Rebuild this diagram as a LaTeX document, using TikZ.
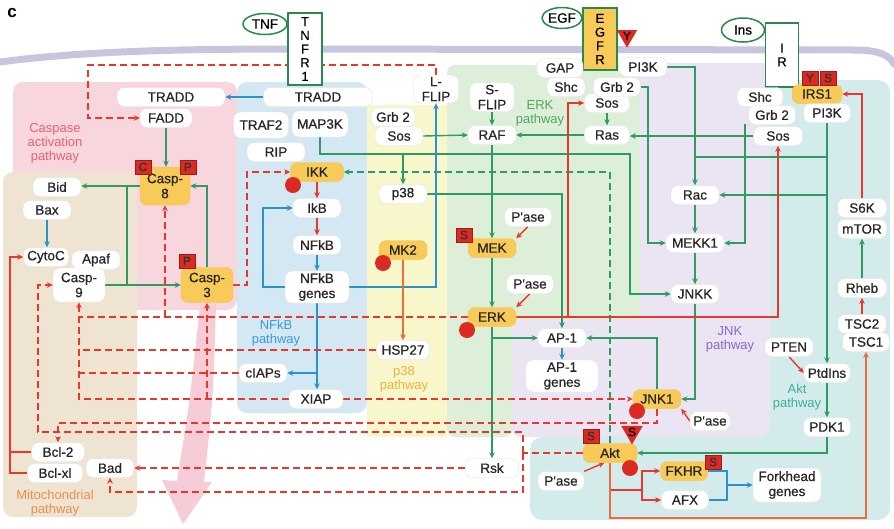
\documentclass[tikz,border=0pt]{standalone}
\usepackage{fontspec}
\setmainfont{Liberation Sans}
\newfontfamily\heavyface{Liberation Sans}[FakeBold=0.6]
\usetikzlibrary{arrows.meta,shapes.geometric}

\definecolor{regpink}{HTML}{F8D6DD}
\definecolor{regtan}{HTML}{EFE3D1}
\definecolor{regblue}{HTML}{D3E8F3}
\definecolor{regyel}{HTML}{F8F6CB}
\definecolor{reggreen}{HTML}{DDEFD9}
\definecolor{reglav}{HTML}{EBE4F2}
\definecolor{regteal}{HTML}{D3ECEB}
\definecolor{pinkarr}{HTML}{F6CDD7}
\definecolor{membr}{HTML}{C8C5DE}
\definecolor{lgreen}{HTML}{2F9A63}
\definecolor{lred}{HTML}{E8382C}
\definecolor{lorange}{HTML}{EE6C3C}
\definecolor{lblue}{HTML}{2A93CB}
\definecolor{actyel}{HTML}{F8CA58}
\definecolor{tagred}{HTML}{DC2A22}
\definecolor{rcptgreen}{HTML}{2A8A4B}
\definecolor{casplbl}{HTML}{E8626E}
\definecolor{nfkblbl}{HTML}{3A9BD6}
\definecolor{ptlbl}{HTML}{E9B43C}
\definecolor{erklbl}{HTML}{4DAA60}
\definecolor{jnklbl}{HTML}{8C68C8}
\definecolor{aktlbl}{HTML}{3AAE9E}
\definecolor{mitolbl}{HTML}{E8914C}

\pgfdeclarelayer{bg}
\pgfdeclarelayer{lines}
\pgfsetlayers{bg,lines,main}

\newcommand{\nodefont}{\heavyface\fontsize{13.5}{15}\selectfont}

\begin{document}
\begin{tikzpicture}[x=1pt, y=-1pt, >={Stealth[length=6pt,width=5.5pt]},
    prot/.style={rectangle, rounded corners=7pt, draw=black!12, fill=white, text=black!85, minimum width=48pt, minimum height=19pt, inner xsep=3pt, inner ysep=1pt, align=center, font=\nodefont},
    act/.style={prot, fill=actyel, draw=actyel!85!orange},
    tag/.style={rectangle, fill=tagred, draw=tagred!70!black, minimum width=16pt, minimum height=14pt, inner sep=0pt, font=\heavyface\fontsize{12}{12}\selectfont, text=black!80},
    tagtri/.style={regular polygon, regular polygon sides=3, shape border rotate=180, fill=tagred, inner sep=0pt, font=\heavyface\fontsize{12}{12}\selectfont, text=black},
    dot/.style={circle, fill=tagred, minimum size=16pt, inner sep=0pt},
    rcpt/.style={rectangle, draw=rcptgreen, line width=1.4pt, fill=white, inner sep=0pt, align=center, font=\heavyface\fontsize{13}{13.7}\selectfont},
    lig/.style={ellipse, draw=rcptgreen, line width=1.5pt, fill=white, inner sep=0pt, font=\nodefont},
    lbl/.style={align=center, font=\fontsize{13}{14}\selectfont},
    gl/.style={draw=lgreen, line width=1.4pt},
    garr/.style={gl, ->},
    gdash/.style={gl, ->, dash pattern=on 7pt off 4pt},
    bl/.style={draw=lblue, line width=1.4pt},
    barr/.style={bl, ->},
    rl/.style={draw=lred, line width=1.4pt},
    rarr/.style={rl, ->},
    rdl/.style={rl, dash pattern=on 7pt off 4pt},
    rdarr/.style={rdl, ->},
    oarr/.style={draw=lorange, line width=1.6pt, ->}
]
\useasboundingbox (0,0) rectangle (894,528);

% pathway areas
\begin{pgfonlayer}{bg}
    \fill[regpink, rounded corners=10pt] (13,82) rectangle (237,310);
    \fill[regtan, rounded corners=10pt] (3,172) rectangle (137,517);
    \fill[regblue, rounded corners=10pt] (237,82) rectangle (367,413);
    \fill[regyel] (367,105) rectangle (447,437);
    \fill[reggreen, rounded corners=8pt] (447,65) -- (640,65) -- (640,320) -- (512,320) -- (512,437) -- (447,437) -- cycle;
    \fill[reglav, rounded corners=8pt] (640,63) -- (770,63) -- (770,437) -- (512,437) -- (512,320) -- (640,320) -- cycle;
    \fill[regteal, rounded corners=12pt] (770,80) -- (890,80) -- (890,520) -- (530,520) -- (530,437) -- (770,437) -- cycle;
    \fill[pinkarr] (200,305) -- (216,305) .. controls (213,400) .. (204,482) -- (212,482) -- (183,524) -- (162,480) -- (177,481) .. controls (190,400) .. (200,305) -- cycle;
    \draw[draw=membr, line width=7pt, line cap=round] (0,62) .. controls (90,50) and (200,49) .. (300,49) -- (855,50) .. controls (880,50) and (890,56) .. (894,64);
\end{pgfonlayer}

\node[font=\bfseries\fontsize{17}{17}\selectfont] (panelc) at (12,13) {c};

% receptors
\node[lig, minimum width=44pt, minimum height=21pt] (tnf) at (265,24) {TNF};
\node[rcpt, minimum width=34pt, minimum height=72pt] (tnfr1) at (305,49) {T\\N\\F\\R\\1};
\node[lig, minimum width=40pt, minimum height=21pt] (egf) at (562,18) {EGF};
\node[rcpt, fill=actyel, minimum width=34pt, minimum height=62pt] (egfr) at (600,39) {E\\G\\F\\R};
\node[lig, minimum width=43pt, minimum height=24pt] (ins) at (743,30) {Ins};
\node[rcpt, minimum width=33pt, minimum height=64pt] (ir) at (782,55) {I\\R};

% caspase / mitochondrial
\node[prot, minimum width=108pt] (traddL) at (171,97) {TRADD};
\node[prot, minimum width=52pt] (fadd) at (166,118) {FADD};
\node[prot] (bid) at (57,187) {Bid};
\node[prot] (bax) at (47,210) {Bax};
\node[prot, minimum width=45pt] (cytoc) at (46,257) {CytoC};
\node[prot] (apaf) at (96,260) {Apaf};
\node[prot, minimum width=52pt, minimum height=34pt] (casp9) at (79,285) {Casp-\\9};
\node[act, minimum width=50pt, minimum height=38pt] (casp8) at (165,186) {Casp-\\8};
\node[act, minimum width=52pt, minimum height=35pt] (casp3) at (207,285) {Casp-\\3};
\node[prot, minimum width=53pt] (bcl2) at (58,452) {Bcl-2};
\node[prot, minimum width=55pt] (bclxl) at (55,473) {Bcl-xl};
\node[prot] (bad) at (110,468) {Bad};

% NFkB
\node[prot, minimum width=109pt] (traddR) at (318,97) {TRADD};
\node[prot, minimum width=55pt, minimum height=26pt] (traf2) at (261,125) {TRAF2};
\node[prot, minimum width=56pt, minimum height=26pt] (map3k) at (320,124) {MAP3K};
\node[prot, minimum width=58pt] (rip) at (276,152) {RIP};
\node[act, minimum width=53pt] (ikk) at (317,172) {IKK};
\node[prot] (ikb) at (317,208) {IkB};
\node[prot] (nfkb) at (317,245) {NFkB};
\node[prot, minimum width=64pt, minimum height=32pt] (nfkbgenes) at (317,287) {NFkB\\genes};
\node[prot] (ciaps) at (263,373) {cIAPs};
\node[prot, minimum width=54pt] (xiap) at (316,399) {XIAP};

% p38 / ERK
\node[prot, minimum width=44pt] (grb2a) at (393,117) {Grb 2};
\node[prot] (sosa) at (399,136) {Sos};
\node[prot, minimum width=45pt, minimum height=28pt] (lflip) at (436,89) {L-\\FLIP};
\node[prot, minimum width=44pt, minimum height=29pt] (sflip) at (492,97) {S-\\FLIP};
\node[prot] (raf) at (492,135) {RAF};
\node[prot] (p38) at (403,194) {p38};
\node[act] (mk2) at (403,250) {MK2};
\node[prot, minimum width=53pt] (hsp27) at (403,350) {HSP27};
\node[act] (mek) at (492,248) {MEK};
\node[prot, minimum width=47pt] (pasemek) at (528,217) {P'ase};
\node[act] (erk) at (492,317) {ERK};
\node[prot, minimum width=47pt] (paseerk) at (530,284) {P'ase};
\node[prot] (ap1) at (562,338) {AP-1};
\node[prot, minimum width=72pt, minimum height=32pt] (ap1genes) at (562,376) {AP-1\\genes};
\node[prot, minimum width=53pt] (rsk) at (492,468) {Rsk};

% EGFR side
\node[prot, minimum width=46pt] (gap) at (560,68) {GAP};
\node[prot, minimum width=38pt] (shca) at (566,87) {Shc};
\node[prot, minimum width=45pt] (sosb) at (607,103) {Sos};
\node[prot, minimum width=47pt] (grb2b) at (617,87) {Grb 2};
\node[prot, minimum width=45pt] (ras) at (607,135) {Ras};
\node[prot, minimum width=48pt] (pi3ka) at (643,67) {PI3K};

% IR side
\node[prot, minimum width=46pt] (shcb) at (760,97) {Shc};
\node[prot, minimum width=47pt] (grb2c) at (772,115) {Grb 2};
\node[prot, minimum width=49pt] (sosc) at (778,136) {Sos};
\node[act, minimum width=50pt] (irs1) at (817,94) {IRS1};
\node[prot, minimum width=47pt] (pi3kb) at (827,113) {PI3K};

% JNK / Akt
\node[prot] (rac) at (695,195) {Rac};
\node[prot, minimum width=58pt] (mekk1) at (695,243) {MEKK1};
\node[prot] (jnkk) at (695,294) {JNKK};
\node[prot, minimum width=49pt] (s6k) at (862,208) {S6K};
\node[prot, minimum width=49pt] (mtor) at (862,229) {mTOR};
\node[prot, minimum width=49pt] (rheb) at (862,288) {Rheb};
\node[prot] (tsc2) at (862,324) {TSC2};
\node[prot, minimum width=47pt] (tsc1) at (866,342) {TSC1};
\node[prot] (pten) at (789,347) {PTEN};
\node[prot, minimum width=46pt] (ptdins) at (827,373) {PtdIns};
\node[prot, minimum width=47pt] (pdk1) at (827,427) {PDK1};
\node[act] (jnk1) at (657,399) {JNK1};
\node[prot, minimum width=40pt] (pasejnk) at (710,421) {P'ase};
\node[act, minimum width=54pt] (akt) at (610,453) {Akt};
\node[prot, minimum width=46pt] (paseakt) at (561,481) {P'ase};
\node[act, minimum width=47pt] (fkhr) at (684,471) {FKHR};
\node[prot, minimum width=47pt] (afx) at (685,500) {AFX};
\node[prot, minimum width=68pt, minimum height=34pt] (fhgenes) at (787,485) {Forkhead\\genes};

% phospho sites and inhibition marks
\node[tag] (tagc) at (143,167) {C};
\node[tag] (tagp8) at (188,167) {P};
\node[tag] (tagp3) at (187,261) {P};
\node[tag] (tagmek) at (464,235) {S};
\node[tag] (tagy) at (810,78) {Y};
\node[tag] (tags) at (828,78) {S};
\node[tag] (tagakt) at (591,436) {S};
\node[tag] (tagfk) at (713,462) {S};
\node[tagtri, minimum size=22pt] (triy) at (627,36) {Y};
\node[tagtri, minimum size=25pt] (trisakt) at (632,432) {S};
\node[dot] (dotikk) at (293,185) {};
\node[dot] (dotmk2) at (383,263) {};
\node[dot] (doterk) at (467,330) {};
\node[dot] (dotjnk) at (637,411) {};
\node[dot] (dotakt) at (630,468) {};

% pathway names
\node[lbl, text=casplbl] (caspl) at (55,143) {Caspase\\activation\\pathway};
\node[lbl, text=nfkblbl] (nfkbl) at (276,333) {NFkB\\pathway};
\node[lbl, text=ptlbl] (p38l) at (404,379) {p38\\pathway};
\node[lbl, text=erklbl] (erkl) at (540,113) {ERK\\pathway};
\node[lbl, text=jnklbl] (jnkl) at (730,339) {JNK\\pathway};
\node[lbl, text=aktlbl] (aktl) at (797,397) {Akt\\pathway};
\node[lbl, text=mitolbl] (mitol) at (55,503) {Mitochondrial\\pathway};

% bends
\coordinate (fliptop) at (88,65);
\coordinate (mapturn) at (630,154);
\coordinate (gturn) at (648,243);
\coordinate (irgrb) at (745,124);
\coordinate (eturn) at (568,103);
\coordinate (cturn) at (10,257);
\coordinate (ikturn) at (247,172);
\coordinate (jturn) at (58,423);
\coordinate (asplit) at (523,453);
\coordinate (c9turn) at (38,432);
\coordinate (badturn) at (110,492);
\coordinate (abot) at (866,518);
\coordinate (fsplit) at (642,490);
\coordinate (fturn) at (727,485);
\coordinate (bturn) at (263,208);
\coordinate (jbid) at (127,187);
\coordinate (jc3) at (127,285);

\begin{pgfonlayer}{lines}
    % green
    \draw[garr] (fadd.south) -- (fadd.south |- casp8.north);
    \draw[garr] (casp3.north) |- (casp8.east);
    \draw[garr] (casp8.west) -- (casp8.west -| bid.east);
    \draw[garr] (casp9.east) -- (casp3.west);
    \draw[gl] (jbid) -- (jc3);
    \draw[garr] (map3k.south) |- (mapturn) |- (jnkk.west);
    \draw[garr] (p38.north |- mapturn) -- (p38.north);
    \draw[garr] (sosa.east) -- (raf.west);
    \draw[garr] (sflip.south) -- (raf.north);
    \draw[garr] (ras.west) -- (raf.east);
    \draw[garr] (raf.south) -- (mek.north);
    \draw[garr] (mek.south) -- (erk.north);
    \draw[garr] (p38.east) -| (ap1.north);
    \draw[garr] (erk.south |- ap1.west) -- (ap1.west);
    \draw[garr] (erk.south) -- (rsk.north);
    \draw[garr] (jnk1.north) |- (ap1.east);
    \draw[garr] (jnkk.south) |- (jnk1.east);
    \draw[garr] (rac.south) -- (mekk1.north);
    \draw[garr] (mekk1.south) -- (jnkk.north);
    \draw[garr] (pi3ka.east) -| (rac.north);
    \draw[garr] (grb2b.east) -| (gturn) -- (mekk1.west);
    \draw[garr] (sosb.south) -- (ras.north);
    \draw[garr] (sosc.west) -- (sosc.west -| ras.east);
    \draw[garr] (irgrb) |- (mekk1.east);
    \draw[garr] (pi3kb.south) -- (pi3kb.south |- ptdins.north);
    \draw[garr] (pi3kb.south |- rac.east) -- (rac.east);
    \draw[gl] (pi3kb.south |- 0,157) -- (rac.north |- 0,157);
    \draw[garr] (rheb.north) -- (mtor.south);
    \draw[garr] (ptdins.south) -- (pdk1.north);
    \draw[garr] (pdk1.south) |- (akt.east);
    \draw[gdash] (akt.north) |- (ikk.east);
    % blue
    \draw[barr] (traddR.west) -- (traddL.east);
    \draw[barr] (nfkb.south) -- (nfkbgenes.north);
    \draw[barr] (nfkbgenes.west) -| (bturn) -- (ikb.west);
    \draw[barr] (nfkbgenes.east) -| (lflip.south);
    \draw[barr] (nfkbgenes.south) -- (nfkbgenes.south |- xiap.north);
    \draw[barr] (nfkbgenes.south |- ciaps.east) -- (ciaps.east);
    \draw[barr] (ap1.south) -- (ap1genes.north);
    \draw[barr] (bax.south) -- (bax.south |- cytoc.north);
    \draw[bl] (fkhr.east) -| (fturn);
    \draw[bl] (afx.east) -| (fturn);
    \draw[barr] (fturn) -- (fhgenes.west);
    % red
    \draw[rarr] (ikk.south) -- (ikb.north);
    \draw[rarr] (ikb.south) -- (nfkb.north);
    \draw[rarr] (pasemek.south) -- (mek.north east);
    \draw[rarr] (paseerk.south) -- (erk.north east);
    \draw[rarr] (pasejnk.west) -- (jnk1.south east);
    \draw[rarr] (paseakt.north east) -- (akt.240);
    \draw[rarr] (pten.south) -- (ptdins.west);
    \draw[rarr] (tsc2.north) -- (rheb.south);
    \draw[rarr] (erk.east) -| (eturn) -- (sosb.west);
    \draw[rarr] (erk.east) -| (sosc.south);
    \draw[rarr] (s6k.north) |- (irs1.east);
    \draw[rarr] (bcl2.west) -| (cturn) -- (cytoc.west);
    \draw[rl] (bclxl.west) -| (cturn);
    \draw[rl] (akt.south |- fsplit) -- (fsplit);
    \draw[rarr] (fsplit) |- (fkhr.west);
    \draw[rarr] (fsplit) |- (afx.west);
    \draw[oarr] (mk2.south) -- (mk2.south |- hsp27.north);
    \draw[oarr] (akt.south) |- (abot) -- (tsc1.south);
    % red dashed
    \draw[rdarr] (lflip.north) |- (fliptop) |- (fadd.west);
    \draw[rdarr] (casp3.east) -| (ikturn) -- (ikk.west);
    \draw[rdl] (erk.west) -- (erk.west -| casp9.south);
    \draw[rdarr] (erk.west -| casp8.south) -- (casp8.south);
    \draw[rdl] (hsp27.west) -- (hsp27.west -| casp9.south);
    \draw[rdl] (ciaps.west) -- (ciaps.west -| casp9.south);
    \draw[rdarr] (xiap.west) -| (casp9.south);
    \draw[rdarr] (xiap.west -| casp3.south) -- (casp3.south);
    \draw[rdarr] (xiap.east) -- (jnk1.west);
    \draw[rdarr] (jnk1.south) |- (jturn) -- (bcl2.north);
    \draw[rdl] (akt.west) -- (asplit);
    \draw[rdarr] (asplit) |- (c9turn) |- (casp9.west);
    \draw[rdarr] (asplit) |- (badturn) -- (bad.south);
    \draw[rdarr] (rsk.west) -- (bad.east);
\end{pgfonlayer}
\end{tikzpicture}
\end{document}
